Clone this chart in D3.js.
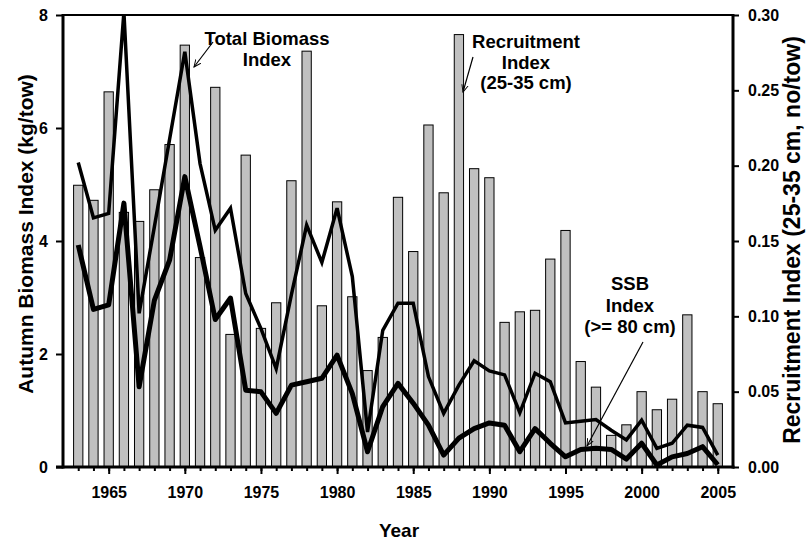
<!DOCTYPE html>
<html>
<head>
<meta charset="utf-8">
<script src="https://cdn.jsdelivr.net/npm/d3@7"></script>
<style>
  body { margin: 0; background: #fff; }
  text { font-family: "Liberation Sans", Arial, sans-serif; font-weight: bold; fill: #000; }
</style>
</head>
<body>
<script>
// survey years
var years = [1963, 1964, 1965, 1966, 1967, 1968, 1969, 1970, 1971, 1972,
             1973, 1974, 1975, 1976, 1977, 1978, 1979, 1980, 1981, 1982,
             1983, 1984, 1985, 1986, 1987, 1988, 1989, 1990, 1991, 1992,
             1993, 1994, 1995, 1996, 1997, 1998, 1999, 2000, 2001, 2002,
             2003, 2004, 2005];

// recruitment index 25-35 cm (no/tow) - bars, right axis
var recruitment = [0.187, 0.177, 0.249, 0.169, 0.163, 0.184, 0.214, 0.280, 0.139, 0.252,
                   0.088, 0.207, 0.092, 0.109, 0.190, 0.276, 0.107, 0.176, 0.113, 0.064,
                   0.086, 0.179, 0.143, 0.227, 0.182, 0.287, 0.198, 0.192, 0.096, 0.103,
                   0.104, 0.138, 0.157, 0.070, 0.053, 0.021, 0.028, 0.050, 0.038, 0.045,
                   0.101, 0.050, 0.042];

// total biomass index (kg/tow) - thin line, left axis
var totalBiomass = [5.39, 4.41, 4.49, 8.05, 2.72, 4.25, 5.80, 7.35, 5.37, 4.19,
                    4.58, 3.07, 2.45, 1.74, 3.05, 4.28, 3.62, 4.58, 3.37, 0.62,
                    2.42, 2.90, 2.90, 1.60, 0.95, 1.45, 1.88, 1.70, 1.63, 0.96,
                    1.66, 1.51, 0.78, 0.81, 0.84, 0.65, 0.48, 0.83, 0.33, 0.42,
                    0.74, 0.70, 0.21];

// SSB index (>= 80 cm) - thick line, left axis
var ssb = [3.93, 2.79, 2.87, 4.67, 1.42, 2.95, 3.66, 5.14, 3.90, 2.61,
           2.99, 1.36, 1.33, 0.95, 1.45, 1.51, 1.57, 1.98, 1.30, 0.27,
           1.07, 1.48, 1.13, 0.74, 0.21, 0.51, 0.68, 0.78, 0.74, 0.27,
           0.68, 0.42, 0.18, 0.31, 0.33, 0.31, 0.14, 0.42, 0.035, 0.18,
           0.24, 0.36, 0.04];

var leftTicks = [0, 2, 4, 6, 8];
var rightTicks = [0, 0.05, 0.10, 0.15, 0.20, 0.25, 0.30];
var majorYears = [1965, 1970, 1975, 1980, 1985, 1990, 1995, 2000, 2005];

var width = 807, height = 541;
var margin = {top: 15, right: 74, bottom: 74, left: 63};
var w = width - margin.left - margin.right,
    h = height - margin.top - margin.bottom;

var svg = d3.select("body").append("svg")
  .attr("width", width)
  .attr("height", height);

var g = svg.append("g")
  .attr("transform", "translate(" + margin.left + "," + margin.top + ")");

var x = d3.scaleLinear().domain([1962, 2006]).range([0, w]);
var yLeft = d3.scaleLinear().domain([0, 8]).range([h, 0]);
var yRight = d3.scaleLinear().domain([0, 0.30]).range([h, 0]);

g.append("clipPath").attr("id", "plotclip")
  .append("rect").attr("width", w).attr("height", h);

var rows = years.map(function(d, i) {
  return {year: d, rec: recruitment[i], tot: totalBiomass[i], ssb: ssb[i]};
});

// bars
var barW = (x(1) - x(0)) * 0.61;
g.append("g").selectAll("rect")
  .data(rows)
  .enter().append("rect")
  .attr("x", function(d) { return x(d.year) - barW / 2; })
  .attr("y", function(d) { return yRight(d.rec); })
  .attr("width", barW)
  .attr("height", function(d) { return h - yRight(d.rec); })
  .style("fill", "#c0c0c0")
  .style("stroke", "#000")
  .style("stroke-width", 1);

// lines
var lineTot = d3.line()
  .x(function(d) { return x(d.year); })
  .y(function(d) { return yLeft(d.tot); });
var lineSsb = d3.line()
  .x(function(d) { return x(d.year); })
  .y(function(d) { return yLeft(d.ssb); });

var lines = g.append("g").attr("clip-path", "url(#plotclip)");
lines.append("path")
  .datum(rows)
  .attr("d", lineTot)
  .style("fill", "none")
  .style("stroke", "#000")
  .style("stroke-width", 3.5)
  .style("stroke-linejoin", "miter");
lines.append("path")
  .datum(rows)
  .attr("d", lineSsb)
  .style("fill", "none")
  .style("stroke", "#000")
  .style("stroke-width", 5)
  .style("stroke-linejoin", "round");

// axes
var xMinor = g.append("g").attr("transform", "translate(0," + h + ")")
  .call(d3.axisBottom(x).tickValues(years).tickSize(4).tickFormat(""));
var xMajor = g.append("g").attr("transform", "translate(0," + h + ")")
  .call(d3.axisBottom(x).tickValues(majorYears).tickSize(7).tickPadding(13)
        .tickFormat(d3.format("d")));
var yL = g.append("g")
  .call(d3.axisLeft(yLeft).tickValues(leftTicks).tickSize(7).tickPadding(8)
        .tickFormat(d3.format("d")));
var yR = g.append("g").attr("transform", "translate(" + w + ",0)")
  .call(d3.axisRight(yRight).tickValues(rightTicks).tickSize(6).tickPadding(9)
        .tickFormat(d3.format(".2f")));

[xMinor, xMajor, yL, yR].forEach(function(a) {
  a.select(".domain").remove();
  a.selectAll(".tick line").style("stroke", "#000").style("stroke-width", 2);
  a.selectAll(".tick text").style("font-size", "16px").style("font-family", null);
});

// frame
g.append("line").attr("x1", 0).attr("x2", w).attr("y1", 0).attr("y2", 0)
  .style("stroke", "#000").style("stroke-width", 2);
g.append("line").attr("x1", -7).attr("x2", w + 1.5).attr("y1", h).attr("y2", h)
  .style("stroke", "#000").style("stroke-width", 3);
g.append("line").attr("x1", 0).attr("x2", 0).attr("y1", -1).attr("y2", h + 1.5)
  .style("stroke", "#000").style("stroke-width", 3);
g.append("line").attr("x1", w).attr("x2", w).attr("y1", -1).attr("y2", h + 1.5)
  .style("stroke", "#000").style("stroke-width", 3);

// axis titles
svg.append("text")
  .attr("x", margin.left + w / 2 + 1)
  .attr("y", 537)
  .attr("text-anchor", "middle")
  .style("font-size", "19px")
  .text("Year");

svg.append("text")
  .attr("transform", "translate(33,234) rotate(-90)")
  .attr("text-anchor", "middle")
  .style("font-size", "21px")
  .text("Autumn Biomass Index (kg/tow)");

svg.append("text")
  .attr("transform", "translate(800,240) rotate(-90)")
  .attr("text-anchor", "middle")
  .style("font-size", "23px")
  .text("Recruitment Index (25-35 cm, no/tow)");

// annotations
svg.append("defs").append("marker")
  .attr("id", "arrow")
  .attr("viewBox", "0 0 10 10")
  .attr("refX", 9).attr("refY", 5)
  .attr("markerWidth", 8).attr("markerHeight", 8)
  .attr("markerUnits", "userSpaceOnUse")
  .attr("orient", "auto")
  .append("path")
  .attr("d", "M0,1 L9,5 L0,9")
  .style("fill", "none")
  .style("stroke", "#000")
  .style("stroke-width", 1.2);

function label(lines, cx, y0, dy) {
  var t = svg.append("text")
    .attr("text-anchor", "middle")
    .style("font-size", "18.5px");
  lines.forEach(function(s, i) {
    t.append("tspan").attr("x", cx).attr("y", y0 + i * dy).text(s);
  });
}
function arrow(x1, y1, x2, y2) {
  svg.append("line")
    .attr("x1", x1).attr("y1", y1).attr("x2", x2).attr("y2", y2)
    .style("stroke", "#000").style("stroke-width", 1.2)
    .attr("marker-end", "url(#arrow)");
}

label(["Total Biomass", "Index"], 267, 45, 20.5);
arrow(213, 42, 194, 67);

label(["Recruitment", "Index", "(25-35 cm)"], 526, 48, 20.5);
arrow(473, 57, 463, 92);

label(["SSB", "Index", "(>= 80 cm)"], 630, 290, 21.5);
arrow(643, 342, 587, 446);
</script>
</body>
</html>
